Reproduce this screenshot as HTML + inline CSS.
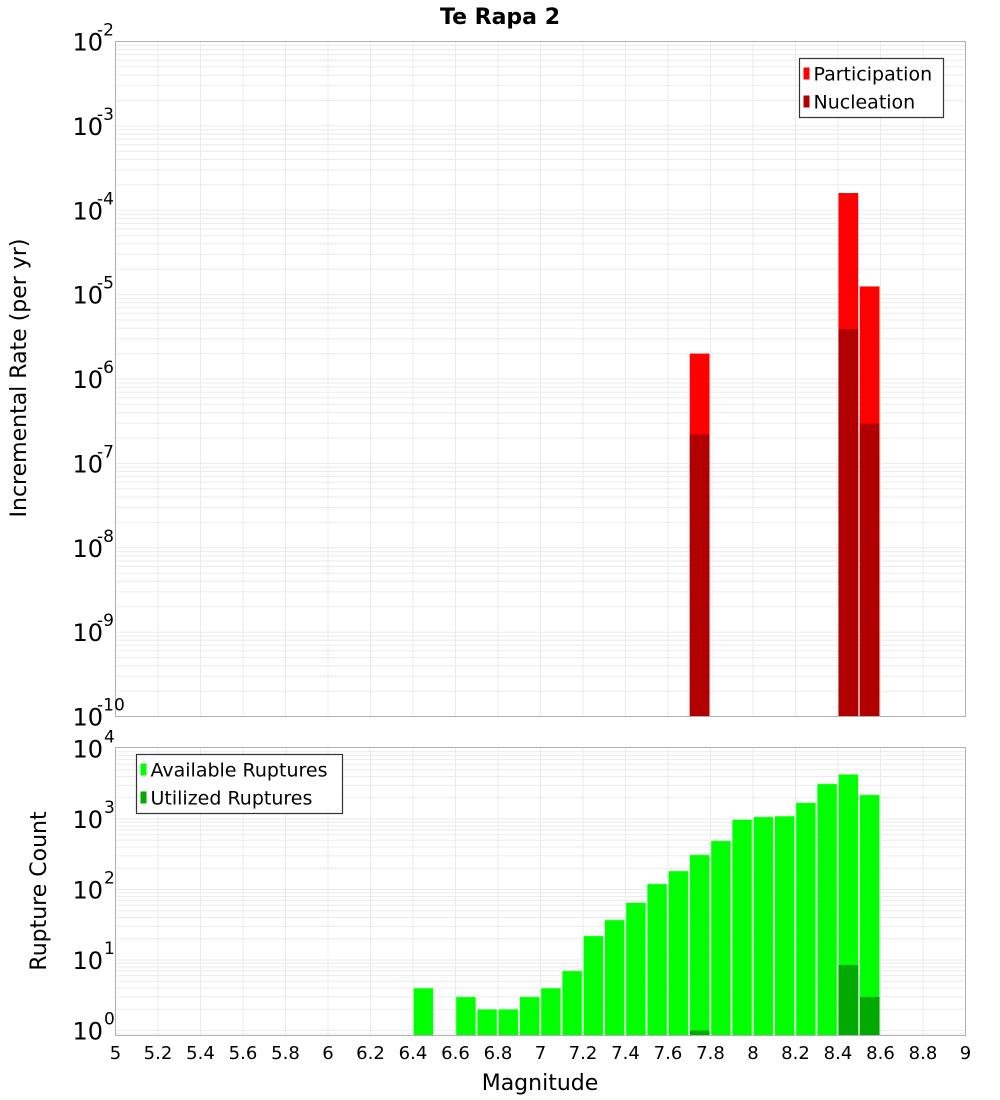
<!DOCTYPE html>
<html><head><meta charset="utf-8"><style>
html,body{margin:0;padding:0;background:#fff;}
svg{display:block;font-family:"DejaVu Sans","Liberation Sans",sans-serif;}
</style></head><body>
<svg id="chart" width="1000" height="1100" viewBox="0 0 1000 1100" xmlns="http://www.w3.org/2000/svg">
<text x="500" y="24" text-anchor="middle" font-size="22" font-weight="bold" fill="#000">Te Rapa 2</text>
<text transform="translate(26,378) rotate(-90)" text-anchor="middle" font-size="22" fill="#000">Incremental Rate (per yr)</text>
<text transform="translate(46,891) rotate(-90)" text-anchor="middle" font-size="22" fill="#000">Rupture Count</text>
<text x="540" y="1090" text-anchor="middle" font-size="22" fill="#000">Magnitude</text>
<g id="gtop"></g>
<g id="gbot"></g>
<g id="xt"></g>
</svg>
<script>
const xTicks = [5,5.2,5.4,5.6,5.8,6,6.2,6.4,6.6,6.8,7,7.2,7.4,7.6,7.8,8,8.2,8.4,8.6,8.8,9];
const rateMags = [7.7, 8.4, 8.5];
const participation = [2.0e-6, 1.6e-4, 1.25e-5];
const nucleation = [2.2e-7, 3.9e-6, 2.95e-7];
const countMags = [6.4,6.6,6.7,6.8,6.9,7.0,7.1,7.2,7.3,7.4,7.5,7.6,7.7,7.8,7.9,8.0,8.1,8.2,8.3,8.4,8.5];
const available = [4,3,2,2,3,4,7,22,37,65,120,183,310,490,980,1070,1100,1700,3150,4300,2200];
const utilMags = [7.7, 8.4, 8.5];
const utilized = [1, 8.5, 3];
const topExps = [-2,-3,-4,-5,-6,-7,-8,-9,-10];
const botExps = [0,1,2,3,4];

const NS="http://www.w3.org/2000/svg";
const L=115.5,R=965.5;
const X=m=>L+(m-5)*(R-L)/4;
const TT=41.5,TB=716.5;
const YT=v=>TB-(Math.log10(v)+10)*(TB-TT)/8;
const BT=747.5,BB=1035.5,DEC=70.5,ZERO=1030.5;
const YB=v=>ZERO-Math.log10(v)*DEC;
function mk(p,tag,a){const e=document.createElementNS(NS,tag);for(const k in a)e.setAttribute(k,a[k]);p.appendChild(e);return e;}
const gTop=document.getElementById('gtop'),gBot=document.getElementById('gbot'),xt=document.getElementById('xt');

function grid(g,t,b,yf,e0,e1){
  for(let e=e0;e<e1;e++)for(let k=1;k<10;k++){const y=yf(k*Math.pow(10,e));if(y<t||y>b)continue;
    const l=mk(g,'line',{x1:L,x2:R,y1:y,y2:y,stroke:'#ebebeb','stroke-width':1});
    
    }
  xTicks.forEach(m=>{const l=mk(g,'line',{x1:X(m),x2:X(m),y1:t,y2:b,stroke:'#ebebeb','stroke-width':1});
    
    });
}
grid(gTop,TT,TB,YT,-10,-2);
grid(gBot,BT,BB,YB,-1,4);

const bw=(R-L)/40;
function bar(g,m,v,yf,base,fill,name){
  const y=yf(v);const r=mk(g,'rect',{x:X(m)+0.5,y:y,width:bw-1.5,height:base-y,fill:fill,stroke:fill==='#00ff00'?'#aaffaa':'none','stroke-width':0.6});
  
  
}
rateMags.forEach((m,i)=>bar(gTop,m,participation[i],YT,TB,'#ff0000','participation-bar'));
rateMags.forEach((m,i)=>bar(gTop,m,nucleation[i],YT,TB,'#b20000','nucleation-bar'));
countMags.forEach((m,i)=>bar(gBot,m,available[i],YB,BB,'#00ff00','available-bar'));
utilMags.forEach((m,i)=>bar(gBot,m,utilized[i],YB,BB,'#00aa00','utilized-bar'));

[[gTop,TT,TB],[gBot,BT,BB]].forEach(([g,t,b])=>{const r=mk(g,'rect',{x:L,y:t,width:R-L,height:b-t,fill:'none',stroke:'#b0b0b0','stroke-width':1});
  
  });

topExps.forEach(e=>{const y=YT(Math.pow(10,e));const t=mk(gTop,'text',{x:103,y:y+9,'text-anchor':'end','font-size':24,fill:'#000'});
  
  
  t.textContent='10';
  const s=mk(gTop,'text',{x:97,y:y-6,'text-anchor':'start','font-size':17,fill:'#000'});
  
  
  s.textContent=String(e);});
botExps.forEach(e=>{const y=YB(Math.pow(10,e));const t=mk(gBot,'text',{x:103,y:y+9,'text-anchor':'end','font-size':24,fill:'#000'});
  
  
  t.textContent='10';
  const s=mk(gBot,'text',{x:104,y:y-6,'text-anchor':'start','font-size':17,fill:'#000'});
  
  
  s.textContent=String(e);});

xTicks.forEach(m=>{const t=mk(xt,'text',{x:X(m),y:1059,'text-anchor':'middle','font-size':18,fill:'#000'});
  
  
  t.textContent=String(m);});

function legend(g,x,y,w,h,items){
  const lg=mk(g,'g',{});
  
  
  mk(lg,'rect',{x:x,y:y,width:w,height:h,fill:'#fff',stroke:'#333','stroke-width':1.2});
  items.forEach((it,i)=>{const cy=y+15+i*28;
    const sw=mk(lg,'rect',{x:x+4,y:cy-6,width:6,height:12,fill:it[1]});
    
    
    const t=mk(lg,'text',{x:x+14,y:cy+7,'font-size':19,fill:'#000'});
    
    
    t.textContent=it[0];});
}
legend(gTop,799.5,58.5,144,59,[['Participation','#ff0000'],['Nucleation','#b20000']]);
legend(gBot,136.5,754.5,206,59,[['Available Ruptures','#00ff00'],['Utilized Ruptures','#00aa00']]);
</script>
</body></html>
